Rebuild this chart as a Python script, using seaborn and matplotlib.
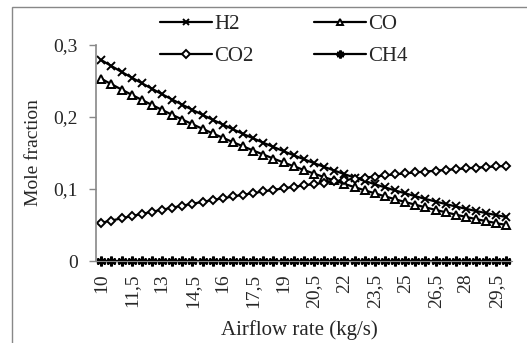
import numpy as np
import pandas as pd
import matplotlib
matplotlib.use('Agg')
import matplotlib.pyplot as plt
from matplotlib.patches import Rectangle
import seaborn as sns

# airflow rate categories (kg/s)
airflow = [10.0, 10.5, 11.0, 11.5, 12.0, 12.5, 13.0, 13.5, 14.0, 14.5,
           15.0, 15.5, 16.0, 16.5, 17.0, 17.5, 18.0, 18.5, 19.0, 19.5,
           20.0, 20.5, 21.0, 21.5, 22.0, 22.5, 23.0, 23.5, 24.0, 24.5,
           25.0, 25.5, 26.0, 26.5, 27.0, 27.5, 28.0, 28.5, 29.0, 29.5, 30.0]

h2 = [0.2790, 0.2707, 0.2626, 0.2547, 0.2469, 0.2392, 0.2316, 0.2242, 0.2170, 0.2099,
      0.2029, 0.1961, 0.1895, 0.1829, 0.1765, 0.1703, 0.1642, 0.1583, 0.1525, 0.1468,
      0.1413, 0.1359, 0.1307, 0.1256, 0.1206, 0.1158, 0.1112, 0.1066, 0.1023, 0.0980,
      0.0940, 0.0900, 0.0862, 0.0826, 0.0791, 0.0757, 0.0725, 0.0694, 0.0665, 0.0637, 0.0610]

co = [0.2530, 0.2455, 0.2381, 0.2308, 0.2237, 0.2167, 0.2098, 0.2030, 0.1964, 0.1899,
      0.1835, 0.1772, 0.1711, 0.1650, 0.1592, 0.1534, 0.1478, 0.1422, 0.1368, 0.1316,
      0.1264, 0.1214, 0.1165, 0.1118, 0.1071, 0.1026, 0.0982, 0.0940, 0.0898, 0.0858,
      0.0819, 0.0782, 0.0745, 0.0710, 0.0677, 0.0644, 0.0613, 0.0582, 0.0554, 0.0526, 0.0500]

co2 = [0.0530, 0.0562, 0.0593, 0.0624, 0.0654, 0.0683, 0.0712, 0.0740, 0.0768, 0.0795,
       0.0821, 0.0847, 0.0872, 0.0896, 0.0920, 0.0943, 0.0966, 0.0988, 0.1009, 0.1030,
       0.1050, 0.1069, 0.1088, 0.1106, 0.1124, 0.1141, 0.1157, 0.1173, 0.1188, 0.1203,
       0.1216, 0.1230, 0.1242, 0.1254, 0.1265, 0.1276, 0.1286, 0.1296, 0.1305, 0.1313, 0.1320]

ch4 = [0.0, 0.0, 0.0, 0.0, 0.0, 0.0, 0.0, 0.0, 0.0, 0.0,
       0.0, 0.0, 0.0, 0.0, 0.0, 0.0, 0.0, 0.0, 0.0, 0.0,
       0.0, 0.0, 0.0, 0.0, 0.0, 0.0, 0.0, 0.0, 0.0, 0.0,
       0.0, 0.0, 0.0, 0.0, 0.0, 0.0, 0.0, 0.0, 0.0, 0.0, 0.0]

y_ticks = [0.0, 0.1, 0.2, 0.3]
y_ticklabels = ["0", "0,1", "0,2", "0,3"]

series = {"H2": h2, "CO": co, "CO2": co2, "CH4": ch4}
frames = []
for name, vals in series.items():
    frames.append(pd.DataFrame({"pos": range(len(airflow)), "value": vals, "gas": name}))
df = pd.concat(frames, ignore_index=True)

sns.set_style("white")
plt.rcParams['font.family'] = ['Liberation Serif', 'DejaVu Serif']
plt.rcParams['font.size'] = 14

fig = plt.figure(figsize=(5.27, 3.43), dpi=100)
ax = fig.add_axes([0.1816, 0.239, 0.79, 0.63])

markers = {"H2": "x", "CO": "^", "CO2": "D", "CH4": (6, 2, 0)}
msize = {"H2": 6, "CO": 6, "CO2": 4.5, "CH4": 7}
mew = {"H2": 1.4, "CO": 1.4, "CO2": 1.4, "CH4": 1.9}
for name in series:
    sub = df[df["gas"] == name]
    sns.lineplot(data=sub, x="pos", y="value", ax=ax, color="black", linewidth=1.6,
                 marker=markers[name], markersize=msize[name], markerfacecolor="white",
                 markeredgecolor="black", markeredgewidth=mew[name], label=name, clip_on=False)

ax.set_xlim(-0.55, len(airflow) - 0.45)
ax.set_ylim(0, 0.3)
ax.set_yticks(y_ticks)
ax.set_yticklabels(y_ticklabels)
tick_pos = list(range(0, len(airflow), 3))
ax.set_xticks(tick_pos)
ax.set_xticklabels([f"{airflow[i]:g}".replace(".", ",") for i in tick_pos], rotation=90)
ax.tick_params(axis="y", length=5, width=1, color="#888888", pad=8, direction="out",
               left=True, labelsize=14)
ax.tick_params(axis="x", length=0, pad=9, labelsize=14)

for s in ["top", "right"]:
    ax.spines[s].set_visible(False)
ax.spines["left"].set_color("#888888")
ax.spines["bottom"].set_color("#888888")
ax.spines["left"].set_linewidth(1.2)

ax.set_xlabel("Airflow rate (kg/s)", fontsize=15)
ax.set_ylabel("Mole fraction", fontsize=14)
ax.xaxis.set_label_coords(0.49, -0.275)
ax.yaxis.set_label_coords(-0.13, 0.5)

handles, labels = ax.get_legend_handles_labels()
ax.get_legend().remove()
order = [labels.index(n) for n in ["H2", "CO2", "CO", "CH4"]]
fig.legend([handles[i] for i in order], [labels[i] for i in order], ncol=2,
           loc="center", bbox_to_anchor=(0.538, 0.883), frameon=False, fontsize=15,
           handlelength=2.5, handletextpad=0.1, columnspacing=2.9, labelspacing=0.6,
           markerscale=0.8)

fig.add_artist(Rectangle((12 / 527, -0.05), 1.0, 1 - 7 / 343 + 0.05, transform=fig.transFigure,
                         fill=False, edgecolor="#888888", linewidth=1.0))

fig.savefig("out.png", dpi=100)
